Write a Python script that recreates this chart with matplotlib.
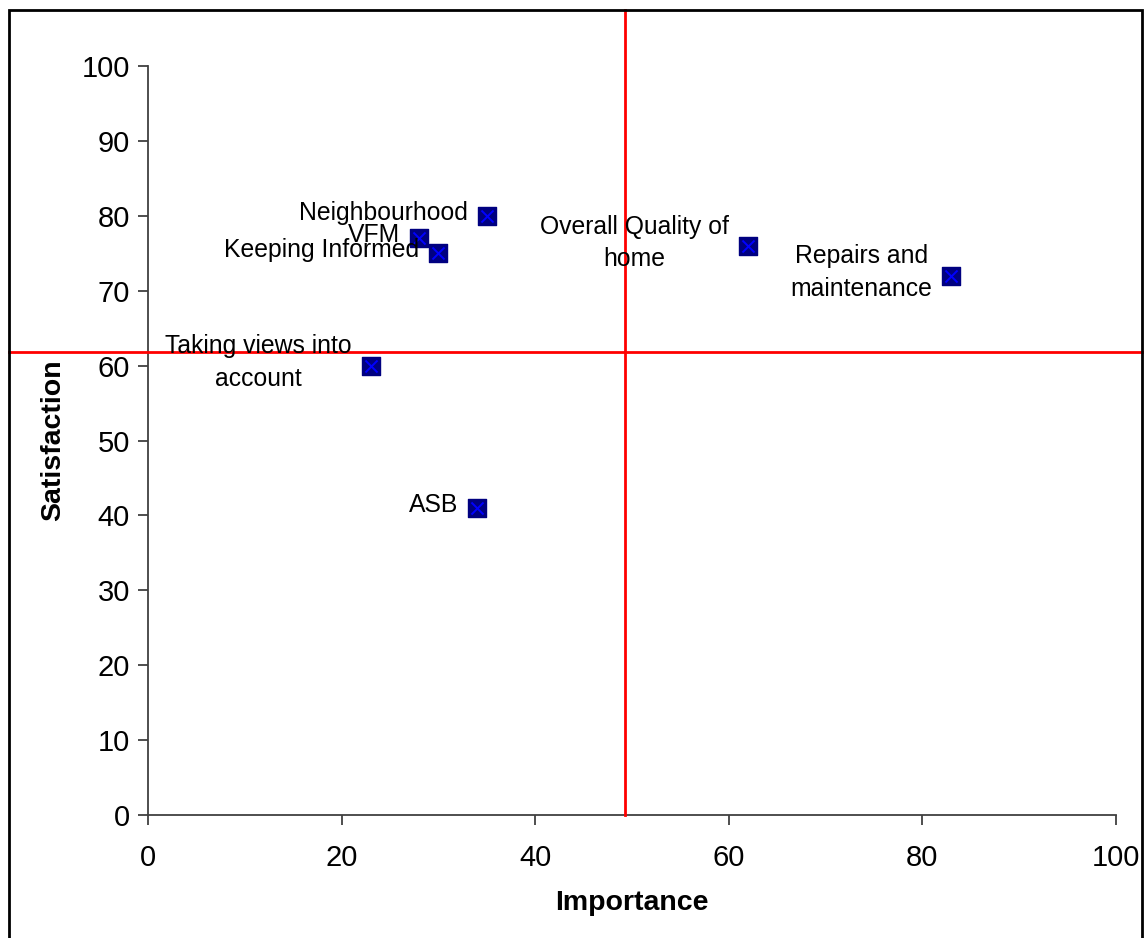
import matplotlib.pyplot as plt
from matplotlib.patches import Rectangle

plt.rcParams['font.family'] = ['Liberation Sans', 'DejaVu Sans']

# datos
labels = ['Neighbourhood', 'VFM', 'Keeping Informed', 'Overall Quality of\nhome',
          'Repairs and\nmaintenance', 'Taking views into\naccount', 'ASB']
importance = [35, 28, 30, 62, 83, 23, 34]
satisfaction = [80, 77, 75, 76, 72, 60, 41]

# lineas de referencia (medias)
mean_importance = 49.3
mean_satisfaction = 61.8

fig = plt.figure(figsize=(11.48, 9.38), dpi=100)
ax = fig.add_axes([0.1289, 0.1311, 0.8432, 0.7985])

# marco exterior
fig.patches.append(Rectangle((0.0078, -0.02), 0.987, 1.0093, transform=fig.transFigure,
                             fill=False, edgecolor='black', linewidth=2))

ax.scatter(importance, satisfaction, marker='s', s=170, facecolor='#000080',
           edgecolor='#000080', zorder=4)
ax.scatter(importance, satisfaction, marker='x', s=75, color='#0000FF',
           linewidth=1.4, zorder=5)

for txt, x, y in zip(labels, importance, satisfaction):
    ax.annotate(txt, (x, y), xytext=(-19, 3), textcoords='offset pixels',
                ha='right', va='center', multialignment='center',
                fontsize=17.8, linespacing=1.45, zorder=6)

ax.axvline(mean_importance, ymin=0, ymax=1.0748, color='red', linewidth=2,
           clip_on=False, zorder=3)
ax.axhline(mean_satisfaction, xmin=-0.1436, xmax=1.0269, color='red', linewidth=2,
           clip_on=False, zorder=3)

ax.set_xlim(0, 100)
ax.set_ylim(0, 100)
ax.set_xticks(range(0, 101, 20))
ax.set_yticks(range(0, 101, 10))
ax.spines['top'].set_visible(False)
ax.spines['right'].set_visible(False)
for s in ['left', 'bottom']:
    ax.spines[s].set_color('#404040')
    ax.spines[s].set_linewidth(1.3)
ax.tick_params(direction='out', length=7, width=1.3, color='#404040',
               labelsize=21)
ax.tick_params(axis='x', pad=14)
ax.tick_params(axis='y', pad=6)

ax.set_xlabel('Importance', fontsize=20.5, fontweight='bold', labelpad=13)
ax.set_ylabel('Satisfaction', fontsize=20.5, fontweight='bold', labelpad=11)

fig.savefig('out.png', dpi=100)
